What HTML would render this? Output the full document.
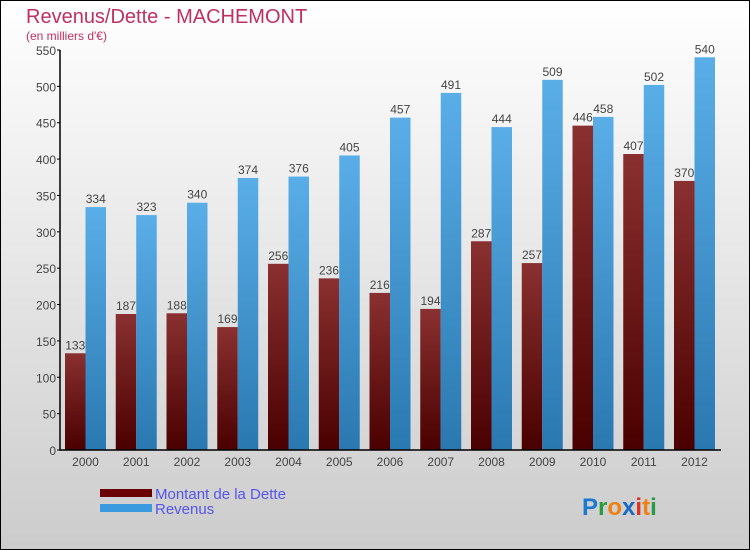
<!DOCTYPE html>
<html><head><meta charset="utf-8"><style>
html,body{margin:0;padding:0;}
svg{display:block;font-family:"Liberation Sans",sans-serif;}
</style></head><body>
<svg id="chart" width="750" height="550" xmlns="http://www.w3.org/2000/svg">
<defs>
<linearGradient id="bg" x1="0" y1="0" x2="0" y2="1"><stop offset="0" stop-color="#ffffff"/><stop offset="1" stop-color="#cccccc"/></linearGradient>
<linearGradient id="gd" x1="0" y1="0" x2="0" y2="1"><stop offset="0" stop-color="#8a3030"/><stop offset="1" stop-color="#4a0000"/></linearGradient>
<linearGradient id="gr" x1="0" y1="0" x2="0" y2="1"><stop offset="0" stop-color="#5aaee8"/><stop offset="1" stop-color="#2a78b0"/></linearGradient>
</defs>
<rect x="0.5" y="0.5" width="749" height="549" fill="url(#bg)" stroke="#000"/>
<text x="26" y="23" font-size="20" fill="#c0305f">Revenus/Dette - MACHEMONT</text>
<text x="26" y="40" font-size="12" fill="#c0305f">(en milliers d'€)</text>
<g id="plot"></g>
<rect x="100" y="489" width="52" height="8" fill="#6a0000"/>
<rect x="100" y="504" width="52" height="8" fill="#3a9ae0"/>
<text x="155" y="499" font-size="15" fill="#5555ee">Montant de la Dette</text>
<text x="155" y="514" font-size="15" fill="#5555ee">Revenus</text>
<g font-size="24" font-weight="bold">
<text x="582" y="515"><tspan fill="#1a7ad0">P</tspan><tspan fill="#2a9a40">r</tspan><tspan fill="#f08010">o</tspan><tspan fill="#1a6ac0">x</tspan><tspan fill="#e03020">i</tspan><tspan fill="#f08010">t</tspan><tspan fill="#2a9a40">i</tspan></text>
</g>
</svg>
<script>
const years=["2000","2001","2002","2003","2004","2005","2006","2007","2008","2009","2010","2011","2012"];
const dette=[133,187,188,169,256,236,216,194,287,257,446,407,370];
const revenus=[334,323,340,374,376,405,457,491,444,509,458,502,540];
const yTicks=[0,50,100,150,200,250,300,350,400,450,500,550];
const NS="http://www.w3.org/2000/svg";
const g=document.getElementById('plot');
const y0=450,yMax=550,yTop=50,x0=60,x1=721;
const yS=v=>y0-v*(y0-yTop)/yMax;
const step=50.75,bw=20.5,gx=i=>65+i*step;
function mk(t,a,p){const e=document.createElementNS(NS,t);for(const k in a)e.setAttribute(k,a[k]);(p||g).appendChild(e);return e;}
yTicks.forEach(v=>{
 const t=mk('text',{x:x0-4,y:yS(v)+5,'font-size':12,fill:'#444','text-anchor':'end'});
 t.textContent=v;
 
 
 mk('line',{x1:x0-3,x2:x0,y1:yS(v),y2:yS(v),stroke:'#000'});
});
years.forEach((yr,i)=>{
 const xd=gx(i),xr=xd+bw;
 const bd=mk('rect',{x:xd,y:yS(dette[i]),width:bw,height:y0-yS(dette[i]),fill:'url(#gd)'});
 
 
 const br=mk('rect',{x:xr,y:yS(revenus[i]),width:bw,height:y0-yS(revenus[i]),fill:'url(#gr)'});
 
 
 const ld=mk('text',{x:xd+bw/2,y:yS(dette[i])-4,'font-size':12,fill:'#444','text-anchor':'middle'});
 ld.textContent=dette[i];
 
 
 const lr=mk('text',{x:xr+bw/2,y:yS(revenus[i])-4,'font-size':12,fill:'#444','text-anchor':'middle'});
 lr.textContent=revenus[i];
 
 
 const xl=mk('text',{x:xr,y:466,'font-size':12,fill:'#444','text-anchor':'middle'});
 xl.textContent=yr;
 
 
});
const ax=mk('path',{d:`M${x0} ${yTop}V${y0}H${x1}`,stroke:'#000','stroke-width':1.5,fill:'none'});


</script>
</body></html>
